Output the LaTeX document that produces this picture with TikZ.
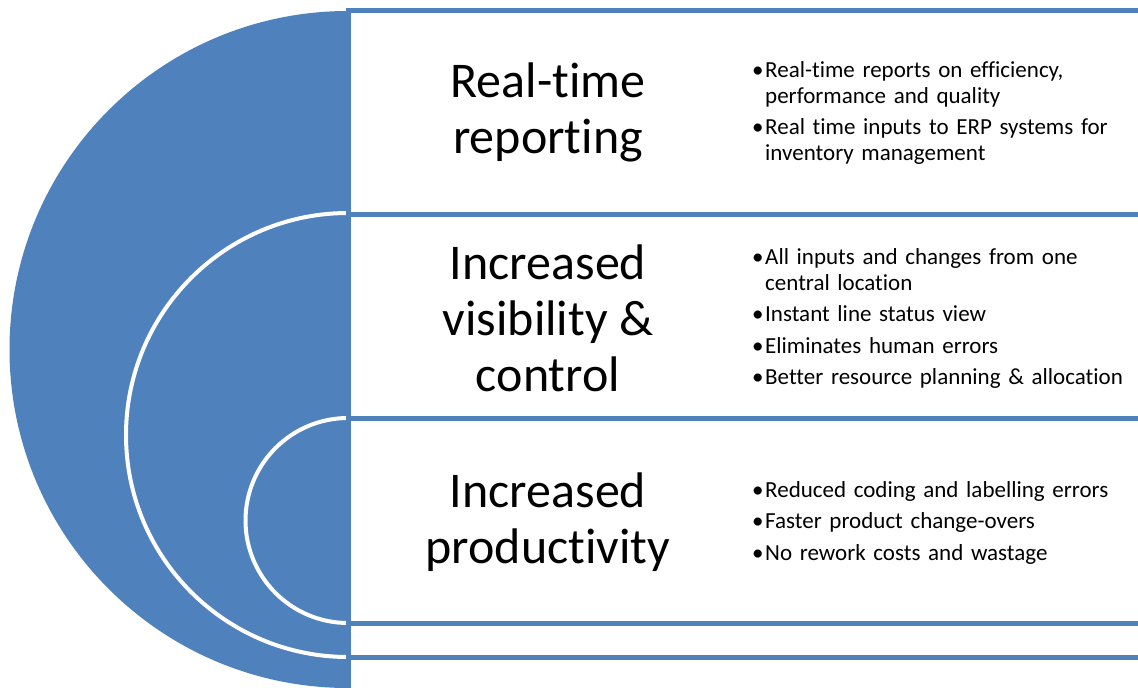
\documentclass[tikz,border=0pt]{standalone}
\usepackage{fontspec}
\setmainfont{Carlito}[Ligatures=NoCommon]
\definecolor{ofblue}{HTML}{4F81BD}
\newlength{\bulw}
\setlength{\bulw}{13pt}
\newcommand{\bul}[1]{\hangindent=\bulw\hangafter=1\noindent\makebox[\bulw][l]{•}#1\par}
\tikzset{
  frameline/.style={draw=ofblue, line width=5pt},
  whitearc/.style={draw=white, line width=4pt},
  titletext/.style={align=center, font=\fontsize{50}{56}\selectfont, inner sep=0pt},
  bullettext/.style={anchor=north west, text width=400pt, align=left, inner sep=0pt,
    font=\fontsize{23}{26}\selectfont\setlength{\parskip}{5.5pt}}
}
\begin{document}
\begin{tikzpicture}[x=1pt,y=-1pt]
\useasboundingbox (0,0) rectangle (1138,688);
% big half disk
\fill[ofblue] (348,11) arc[start angle=90,end angle=270,radius=338.5pt] -- cycle;
% white arcs
\draw[whitearc] (348,213) arc[start angle=90,end angle=270,radius=222pt];
\draw[whitearc] (348,418) arc[start angle=90,end angle=270,radius=102.5pt];
% frame lines
\draw[frameline, line join=miter] (1140,10) -- (348,10) -- (348,690);
\draw[frameline] (348,214) -- (1140,214);
\draw[frameline] (348,418.5) -- (1140,418.5);
\draw[frameline] (348,623) -- (1140,623);
\draw[frameline] (348,657) -- (1140,657);
% titles
\node[titletext] (t1) at (548,112) {Real-time\\reporting};
\node[titletext] (t2) at (548,318) {Increased\\visibility \&\\control};
\node[titletext] (t3) at (548,522) {Increased\\productivity};
% bullets
\node[bullettext] (b1) at (752,61) {\bul{Real-time reports on efficiency,\newline performance and quality}\bul{Real time inputs to ERP systems for\newline inventory management}};
\node[bullettext] (b2) at (752,248) {\bul{All inputs and changes from one\newline central location}\bul{Instant line status view}\bul{Eliminates human errors}\bul{Better resource planning \& allocation}};
\node[bullettext] (b3) at (752,481) {\bul{Reduced coding and labelling errors}\bul{Faster product change-overs}\bul{No rework costs and wastage}};
\end{tikzpicture}
\end{document}
